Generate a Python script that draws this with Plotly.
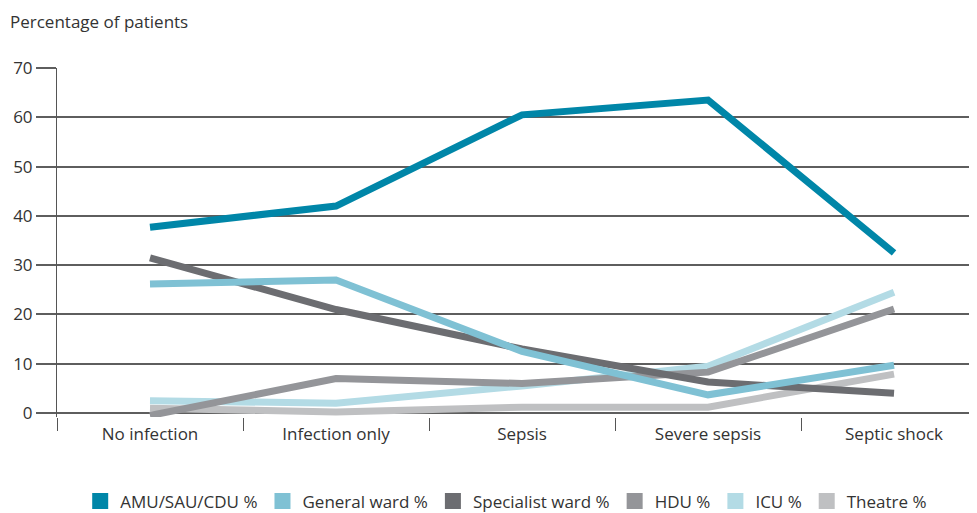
import plotly.graph_objects as go

# categories on the x axis
stages = ['No infection', 'Infection only', 'Sepsis', 'Severe sepsis', 'Septic shock']

# percentage of patients by location
amu = [37.7, 42.0, 60.5, 63.5, 32.5]
general_ward = [26.2, 27.0, 12.5, 3.7, 9.7]
specialist_ward = [31.5, 21.0, 13.0, 6.3, 4.0]
hdu = [-0.5, 7.0, 6.0, 8.3, 21.1]
icu = [2.5, 2.0, 5.5, 9.5, 24.5]
theatre = [1.0, 0.2, 1.2, 1.2, 7.9]

series_names = ['AMU/SAU/CDU %', 'General ward %', 'Specialist ward %', 'HDU %', 'ICU %', 'Theatre %']
series_values = [amu, general_ward, specialist_ward, hdu, icu, theatre]
colours = ['#0086a8', '#7fc1d4', '#6c6d71', '#949599', '#b3dbe5', '#bfc0c2']

y_ticks = [0, 10, 20, 30, 40, 50, 60, 70]

fig = go.Figure()

# lines drawn in reverse so AMU sits on top
for name, vals, col in reversed(list(zip(series_names, series_values, colours))):
    fig.add_trace(go.Scatter(
        x=stages, y=vals, mode='lines', name=name,
        line=dict(color=col, width=7),
        showlegend=False, hoverinfo='skip'
    ))

# square legend swatches
for name, col in zip(series_names, colours):
    fig.add_trace(go.Scatter(
        x=[None], y=[None], mode='markers', name=name,
        marker=dict(symbol='square', size=16, color=col)
    ))

# page body adds an 8px offset, margins compensate for it
fig.update_layout(
    width=977, height=513,
    margin=dict(l=49, r=0, t=60, b=104, autoexpand=False),
    paper_bgcolor='white', plot_bgcolor='white',
    font=dict(family='Open Sans', size=17, color='#333333'),
    title=dict(text='Percentage of patients', xref='container', yref='container',
               x=0.0, y=0.973, xanchor='left', yanchor='middle',
               pad=dict(l=2, t=0, b=0, r=0),
               font=dict(family='Open Sans', size=17, color='#333333')),
    showlegend=True,
    legend=dict(orientation='h', x=0.025, xanchor='left', y=-0.242, yanchor='middle',
                font=dict(size=17, color='#333333'), itemsizing='trace',
                traceorder='normal')
)

fig.update_xaxes(
    type='category', range=[-0.5, 4.489], automargin=False,
    tickson='boundaries', ticks='outside', ticklen=13, tickcolor='#555555', tickwidth=1,
    ticklabelstandoff=5,
    showgrid=False, showline=False, zeroline=False,
    tickfont=dict(size=17, color='#333333')
)

fig.update_yaxes(
    range=[-0.8, 70], tickvals=y_ticks, automargin=False,
    ticks='outside', ticklen=20, tickcolor='#5e5e5e', tickwidth=1.5,
    showgrid=True, gridcolor='#5e5e5e', gridwidth=1.5,
    showline=True, linecolor='#555555', linewidth=1,
    zeroline=False, tickfont=dict(size=17, color='#333333')
)

fig.write_html("out.html")
